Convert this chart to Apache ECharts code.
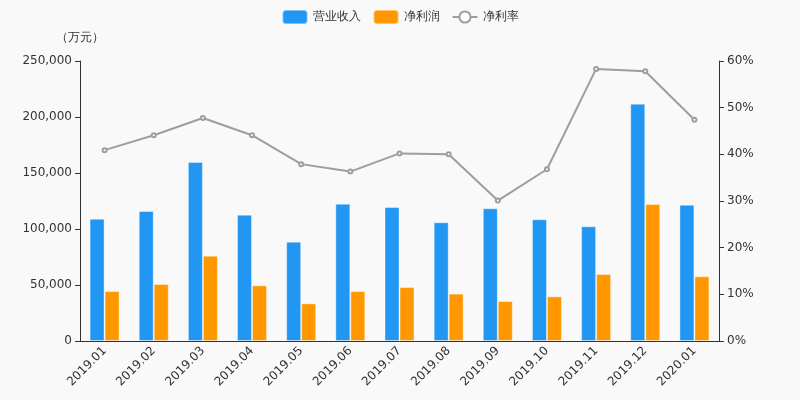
<!DOCTYPE html>
<html><head><meta charset="utf-8">
<script src="https://cdn.jsdelivr.net/npm/echarts@6/dist/echarts.min.js"></script>
<style>html,body{margin:0;padding:0;background:#f9f9f9;}#c{width:800px;height:400px;}</style>
</head><body><div id="c"></div>
<script>
var categories = ['2019.01','2019.02','2019.03','2019.04','2019.05','2019.06','2019.07','2019.08','2019.09','2019.10','2019.11','2019.12','2020.01'];
var revenue = [109200,116100,159800,112800,88700,122600,119600,106000,118500,108700,102400,211900,121700];
var netProfit = [44600,50900,76200,49700,33600,44600,48200,42300,35700,39900,59800,122300,57800];
var netMargin = [40.9,44.1,47.8,44.1,37.9,36.3,40.2,40.0,30.1,36.8,58.3,57.8,47.4];
var leftTicks = {min:0,max:250000,interval:50000};
var rightTicks = {min:0,max:60,interval:10};

var chart = echarts.init(document.getElementById('c'));
var font = 'DejaVu Sans';
chart.setOption({
  backgroundColor:'#f9f9f9',
  animation:false,
  textStyle:{fontFamily:font},
  legend:{top:4,left:'center',itemWidth:25,itemHeight:14,itemGap:12,textStyle:{color:'#333',fontSize:12,fontFamily:font},
    data:[{name:'营业收入',icon:'roundRect'},{name:'净利润',icon:'roundRect'},{name:'净利率'}]},
  grid:{left:80,right:81,top:61,bottom:59},
  xAxis:{type:'category',data:categories,
    axisLine:{lineStyle:{color:'#333'}},axisTick:{lineStyle:{color:'#333'}},
    axisLabel:{rotate:45,color:'#333',fontSize:12,fontFamily:font,interval:0}},
  yAxis:[{type:'value',name:'（万元）',nameTextStyle:{color:'#333',fontSize:12,fontFamily:font,padding:[0,0,2,0]},nameGap:15,
      min:leftTicks.min,max:leftTicks.max,interval:leftTicks.interval,
      axisLine:{show:true,lineStyle:{color:'#333'}},axisTick:{show:true,lineStyle:{color:'#333'}},splitLine:{show:false},
      axisLabel:{color:'#333',fontSize:12,fontFamily:font,formatter:function(v){return v.toLocaleString('en-US');}}},
    {type:'value',min:rightTicks.min,max:rightTicks.max,interval:rightTicks.interval,
      axisLine:{show:true,lineStyle:{color:'#333'}},axisTick:{show:true,lineStyle:{color:'#333'}},splitLine:{show:false},
      axisLabel:{color:'#333',fontSize:12,fontFamily:font,formatter:'{value}%'}}],
  series:[
    {name:'营业收入',type:'bar',data:revenue,barWidth:15,barGap:'0%',itemStyle:{color:'#2196F3',borderColor:'rgba(255,255,255,0.4)',borderWidth:1}},
    {name:'净利润',type:'bar',data:netProfit,barWidth:15,barGap:'0%',itemStyle:{color:'#FF9800',borderColor:'rgba(255,255,255,0.4)',borderWidth:1}},
    {name:'净利率',type:'line',yAxisIndex:1,data:netMargin,symbol:'emptyCircle',symbolSize:4,
      lineStyle:{color:'#9e9e9e',width:2},itemStyle:{color:'#9e9e9e',borderColor:'#9e9e9e'}}
  ]
});
</script></body></html>
